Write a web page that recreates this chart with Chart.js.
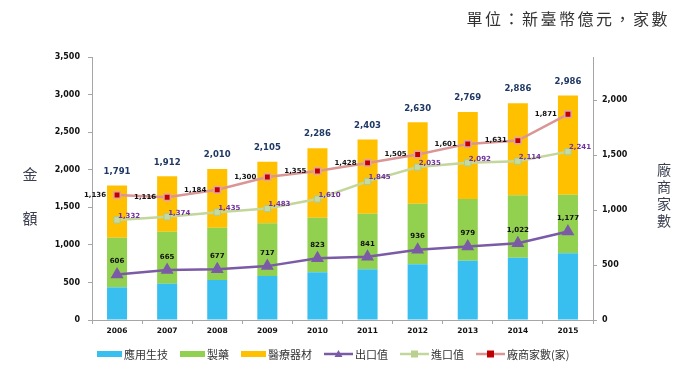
<!DOCTYPE html>
<html>
<head>
<meta charset="utf-8">
<script src="https://cdn.jsdelivr.net/npm/chart.js@4.4.1/dist/chart.umd.min.js"></script>
<style>
  html, body { margin: 0; padding: 0; background: #fff; }
  #wrap { width: 700px; height: 372px; position: relative; }
</style>
</head>
<body>
<div id="wrap"><canvas id="myChart"></canvas></div>
<script>
const years = ['2006', '2007', '2008', '2009', '2010', '2011', '2012', '2013', '2014', '2015'];
const bioApplied = [435, 483, 532, 586, 635, 674, 741, 789, 829, 888];
const pharma = [660, 692, 697, 701, 727, 741, 807, 821, 830, 780];
const medDevices = [696, 737, 781, 818, 924, 988, 1082, 1159, 1227, 1318];
const totals = [1791, 1912, 2010, 2105, 2286, 2403, 2630, 2769, 2886, 2986];
const exportValue = [606, 665, 677, 717, 823, 841, 936, 979, 1022, 1177];
const importValue = [1332, 1374, 1435, 1483, 1610, 1845, 2035, 2092, 2114, 2241];
const firmCount = [1136, 1116, 1184, 1300, 1355, 1428, 1505, 1601, 1631, 1871];
const leftTicks = [0, 500, 1000, 1500, 2000, 2500, 3000, 3500];
const rightTicks = [0, 500, 1000, 1500, 2000];

const BLUE = '#38BFEF';
const GREEN = '#92D050';
const YELLOW = '#FFC000';
const PURPLE = '#7B5BA6';
const LIGHTGREEN = '#C3D69B';
const PINK = '#D99694';
const DARKRED = '#C00000';
const CJK = "'Noto Sans CJK TC'";

const fmt = v => v.toLocaleString('en-US');

const legendItems = [
    { label: '應用生技', kind: 'bar', color: BLUE },
    { label: '製藥', kind: 'bar', color: GREEN },
    { label: '醫療器材', kind: 'bar', color: YELLOW },
    { label: '出口值', kind: 'line', color: PURPLE, marker: 'triangle', markerColor: PURPLE },
    { label: '進口值', kind: 'line', color: LIGHTGREEN, marker: 'rect', markerColor: '#B9D08E' },
    { label: '廠商家數(家)', kind: 'line', color: PINK, marker: 'rect', markerColor: DARKRED }
];

// labels, titles and legend
const extras = {
    id: 'extras',
    afterDatasetsDraw(chart) {
        const ctx = chart.ctx;
        ctx.save();
        ctx.textBaseline = 'middle';

        // totals above the stacks
        ctx.font = "bold 8.5px 'DejaVu Sans'";
        ctx.fillStyle = '#1F3864';
        ctx.textAlign = 'center';
        chart.getDatasetMeta(2).data.forEach((el, i) => {
            ctx.fillText(fmt(totals[i]), el.x, el.y - 14);
        });

        ctx.font = "bold 7px 'DejaVu Sans'";
        // export
        ctx.fillStyle = '#111';
        ctx.textAlign = 'center';
        chart.getDatasetMeta(3).data.forEach((el, i) => {
            ctx.fillText(fmt(exportValue[i]), el.x, el.y - 13);
        });
        // import
        ctx.fillStyle = '#7030A0';
        ctx.textAlign = 'left';
        chart.getDatasetMeta(4).data.forEach((el, i) => {
            ctx.fillText(fmt(importValue[i]), el.x + 1, el.y - 4);
        });
        // firms
        ctx.fillStyle = '#111';
        ctx.textAlign = 'right';
        chart.getDatasetMeta(5).data.forEach((el, i) => {
            ctx.fillText(fmt(firmCount[i]), el.x - 11, el.y);
        });
        ctx.restore();
    },
    afterDraw(chart) {
        const ctx = chart.ctx;
        ctx.save();
        ctx.textBaseline = 'middle';

        // unit title
        ctx.font = '16px ' + CJK;
        ctx.fillStyle = '#333';
        ctx.textAlign = 'right';
        ctx.letterSpacing = '2.5px';
        ctx.fillText('單位：新臺幣億元，家數', 670, 19);
        ctx.letterSpacing = '0px';

        // axis titles (upright stacked chars)
        ctx.textAlign = 'center';
        ctx.fillStyle = '#3B3F50';
        ctx.font = '15px ' + CJK;
        ctx.fillText('金', 30, 174);
        ctx.fillText('額', 30, 218);
        ctx.font = '14px ' + CJK;
        ['廠', '商', '家', '數'].forEach((c, i) => ctx.fillText(c, 664, 170 + i * 17));

        // legend
        let x = 97;
        const y = 354;
        ctx.font = '11px ' + CJK;
        ctx.textAlign = 'left';
        legendItems.forEach(it => {
            if (it.kind === 'bar') {
                ctx.fillStyle = it.color;
                ctx.fillRect(x, y - 3, 25, 6);
                x += 27;
            } else {
                ctx.strokeStyle = it.color;
                ctx.lineWidth = 2.5;
                ctx.beginPath();
                ctx.moveTo(x, y);
                ctx.lineTo(x + 29, y);
                ctx.stroke();
                const mx = x + 14.5;
                ctx.fillStyle = it.markerColor;
                if (it.marker === 'triangle') {
                    ctx.beginPath();
                    ctx.moveTo(mx, y - 4);
                    ctx.lineTo(mx + 4, y + 3);
                    ctx.lineTo(mx - 4, y + 3);
                    ctx.closePath();
                    ctx.fill();
                } else {
                    ctx.fillRect(mx - 3.5, y - 3.5, 7, 7);
                }
                x += 31;
            }
            ctx.fillStyle = '#333';
            ctx.fillText(it.label, x, y + 1);
            x += ctx.measureText(it.label).width + 12;
        });
        ctx.restore();
    }
};

const axisGrid = {
    drawOnChartArea: false,
    drawTicks: true,
    tickLength: 4,
    color: '#A6A6A6'
};
const axisBorder = { display: true, color: '#A6A6A6', width: 1 };

const config = {
    type: 'bar',
    data: {
        labels: years,
        datasets: [
            { label: '應用生技', data: bioApplied, backgroundColor: BLUE, stack: 'total', yAxisID: 'y', order: 2,
              categoryPercentage: 0.4, barPercentage: 1 },
            { label: '製藥', data: pharma, backgroundColor: GREEN, stack: 'total', yAxisID: 'y', order: 2,
              categoryPercentage: 0.4, barPercentage: 1 },
            { label: '醫療器材', data: medDevices, backgroundColor: YELLOW, stack: 'total', yAxisID: 'y', order: 2,
              categoryPercentage: 0.4, barPercentage: 1 },
            { type: 'line', label: '出口值', data: exportValue, yAxisID: 'y', stack: 'exp', order: 1,
              borderColor: PURPLE, borderWidth: 2.5, backgroundColor: PURPLE,
              pointStyle: 'triangle', pointRadius: 5, pointBorderColor: PURPLE, pointBackgroundColor: PURPLE, tension: 0 },
            { type: 'line', label: '進口值', data: importValue, yAxisID: 'y', stack: 'imp', order: 1,
              borderColor: LIGHTGREEN, borderWidth: 2.5, backgroundColor: LIGHTGREEN,
              pointStyle: 'rect', pointRadius: 4.5, pointBorderColor: '#AFC98A', pointBorderWidth: 1,
              pointBackgroundColor: '#C6D9A0', tension: 0 },
            { type: 'line', label: '廠商家數(家)', data: firmCount, yAxisID: 'y1', stack: 'firm', order: 0,
              borderColor: PINK, borderWidth: 2.5, backgroundColor: DARKRED,
              pointStyle: 'rect', pointRadius: 4.5, pointBorderColor: '#E3A3A3', pointBorderWidth: 1.5,
              pointBackgroundColor: DARKRED, tension: 0 }
        ]
    },
    options: {
        responsive: true,
        maintainAspectRatio: false,
        animation: false,
        locale: 'en-US',
        layout: { padding: { top: 57, bottom: 32, left: 0, right: 0 } },
        plugins: {
            legend: { display: false },
            tooltip: { enabled: false }
        },
        scales: {
            x: {
                stacked: true,
                grid: { ...axisGrid, offset: true },
                border: axisBorder,
                ticks: { color: '#111', font: { family: 'DejaVu Sans', size: 7.5, weight: 'bold' }, padding: 3, maxRotation: 0 },
                afterFit: s => { s.height = 20; }
            },
            y: {
                stacked: true,
                position: 'left',
                min: 0,
                max: 3500,
                grid: axisGrid,
                border: axisBorder,
                afterBuildTicks: s => { s.ticks = leftTicks.map(v => ({ value: v })); },
                ticks: { color: '#111', font: { family: 'DejaVu Sans', size: 8, weight: 'bold' }, padding: 8,
                         callback: v => fmt(v) },
                afterFit: s => { s.width = 92; }
            },
            y1: {
                position: 'right',
                min: 0,
                max: 2391,
                grid: axisGrid,
                border: axisBorder,
                afterBuildTicks: s => { s.ticks = rightTicks.map(v => ({ value: v })); },
                ticks: { color: '#111', font: { family: 'DejaVu Sans', size: 8, weight: 'bold' }, padding: 5,
                         callback: v => fmt(v) },
                afterFit: s => { s.width = 107; }
            }
        }
    },
    plugins: [extras]
};

document.addEventListener('DOMContentLoaded', () => {
    const ctx = document.getElementById('myChart');
    if (ctx) {
        new Chart(ctx, config);
    }
});
</script>
</body>
</html>
